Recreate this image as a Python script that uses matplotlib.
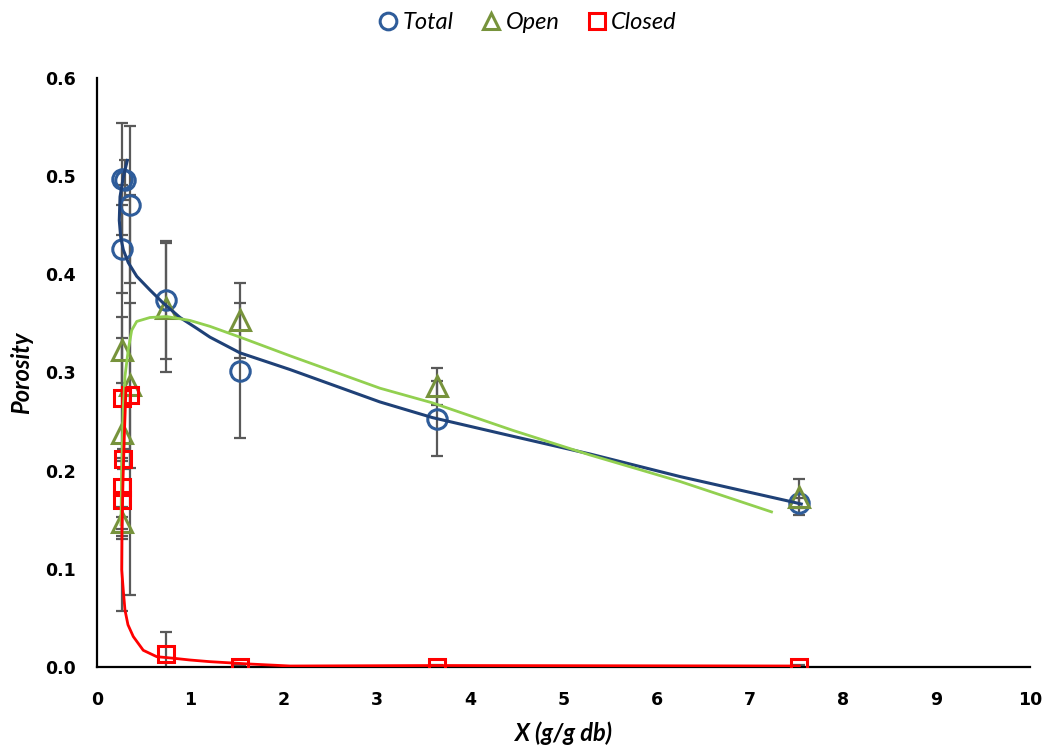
import matplotlib
matplotlib.use("Agg")
import matplotlib.pyplot as plt
from matplotlib.lines import Line2D

# ---- measured points (moisture X, porosity, error) ----
total_x = [0.27, 0.30, 0.35, 0.27, 0.74, 1.53, 3.64, 7.53]
total_y = [0.497, 0.496, 0.471, 0.426, 0.374, 0.302, 0.253, 0.167]
total_err = [0.057, 0.020, 0.080, 0.045, 0.060, 0.069, 0.038, 0.005]

open_x = [0.27, 0.35, 0.27, 0.27, 0.74, 1.53, 3.64, 7.53]
open_y = [0.323, 0.287, 0.238, 0.148, 0.366, 0.353, 0.286, 0.173]
open_err = [0.034, 0.084, 0.097, 0.015, 0.066, 0.038, 0.019, 0.018]

closed_x = [0.27, 0.35, 0.28, 0.27, 0.27, 0.74, 1.53, 3.64, 7.53]
closed_y = [0.274, 0.277, 0.212, 0.183, 0.170, 0.013, 0.0, 0.0, 0.0]
closed_err = [0.217, 0.204, 0.010, 0.030, 0.040, 0.023, 0.002, 0.002, 0.002]

# ---- model curves ----
total_fit_x = [0.325, 0.282, 0.247, 0.239, 0.254, 0.282, 0.335, 0.426, 0.568,
               0.707, 0.890, 1.069, 1.211, 1.533, 2.069, 3.033, 3.598, 4.459,
               5.284, 6.249, 7.46, 7.55]
total_fit_y = [0.516, 0.499, 0.479, 0.455, 0.438, 0.425, 0.412, 0.398, 0.384,
               0.371, 0.356, 0.345, 0.336, 0.320, 0.303, 0.270, 0.254, 0.235,
               0.217, 0.194, 0.168, 0.166]

open_fit_x = [0.257, 0.263, 0.273, 0.284, 0.300, 0.335, 0.372, 0.426, 0.568,
              0.747, 0.997, 1.211, 1.533, 2.069, 3.033, 3.598, 4.459, 5.284,
              6.249, 7.231]
open_fit_y = [0.145, 0.190, 0.231, 0.267, 0.296, 0.323, 0.343, 0.352, 0.356,
              0.357, 0.353, 0.347, 0.336, 0.317, 0.284, 0.269, 0.241, 0.216,
              0.189, 0.158]

closed_fit_x = [0.311, 0.295, 0.279, 0.268, 0.265, 0.282, 0.300, 0.332, 0.389,
                0.496, 0.640, 0.818, 0.997, 1.211, 1.64, 2.07, 3.64, 7.53]
closed_fit_y = [0.284, 0.241, 0.190, 0.140, 0.099, 0.078, 0.058, 0.043, 0.031,
                0.017, 0.0105, 0.0089, 0.0071, 0.0054, 0.003, 0.001, 0.0015, 0.001]

fig = plt.figure(figsize=(10.6, 7.5), dpi=100)
ax = fig.add_axes([0.0915, 0.1107, 0.88, 0.7853])

ebar = dict(fmt='none', ecolor='#595959', elinewidth=1.6, capsize=4.5, capthick=1.6, zorder=2)
ax.errorbar(total_x, total_y, yerr=total_err, **ebar)
ax.errorbar(open_x, open_y, yerr=open_err, **ebar)
ax.errorbar(closed_x, closed_y, yerr=closed_err, **ebar)

ax.plot(total_x, total_y, 'o', ms=14, mfc='none', mec='#2E5C9A', mew=2.2, zorder=3)
ax.plot(open_x, open_y, '^', ms=14, mfc='none', mec='#77933C', mew=2.2, zorder=3)
ax.plot(closed_x, closed_y, 's', ms=12, mfc='none', mec='#FF0000', mew=2.2, zorder=3)

ax.plot(total_fit_x, total_fit_y, color='#1F4177', lw=2.2, zorder=4)
ax.plot(open_fit_x, open_fit_y, color='#92D050', lw=2.0, zorder=4)
ax.plot(closed_fit_x, closed_fit_y, color='#FF0000', lw=2.0, zorder=4)

ax.set_xlim(0, 10)
ax.set_ylim(0, 0.6)
ax.set_xticks(range(0, 11))
ax.set_yticks([0.0, 0.1, 0.2, 0.3, 0.4, 0.5, 0.6])
ax.set_yticklabels(['0.0', '0.1', '0.2', '0.3', '0.4', '0.5', '0.6'])
ax.tick_params(axis='x', length=0, labelsize=12.5, pad=17)
ax.tick_params(axis='y', length=0, labelsize=12.5, pad=15)
for lab in ax.get_xticklabels() + ax.get_yticklabels():
    lab.set_fontweight('bold')

for s in ['top', 'right']:
    ax.spines[s].set_visible(False)
for s in ['left', 'bottom']:
    ax.spines[s].set_linewidth(1.6)
    ax.spines[s].set_color('black')

ax.set_xlabel('X (g/g db)', family='Lato', style='italic', weight='bold', fontsize=17, labelpad=9)
ax.set_ylabel('Porosity', family='Lato', style='italic', weight='bold', fontsize=17, labelpad=9)

handles = [
    Line2D([], [], ls='none', marker='o', ms=12, mfc='none', mec='#2E5C9A', mew=2.2),
    Line2D([], [], ls='none', marker='^', ms=12, mfc='none', mec='#77933C', mew=2.2),
    Line2D([], [], ls='none', marker='s', ms=12, mfc='none', mec='#FF0000', mew=2.2),
]
fig.legend(handles, ['Total', 'Open', 'Closed'], loc='center', bbox_to_anchor=(0.498, 0.97),
           ncol=3, frameon=False, handlelength=0.8, handletextpad=0.2, columnspacing=1.2,
           prop={'family': 'Lato', 'style': 'italic', 'size': 17})

fig.savefig('out.png', dpi=100)
